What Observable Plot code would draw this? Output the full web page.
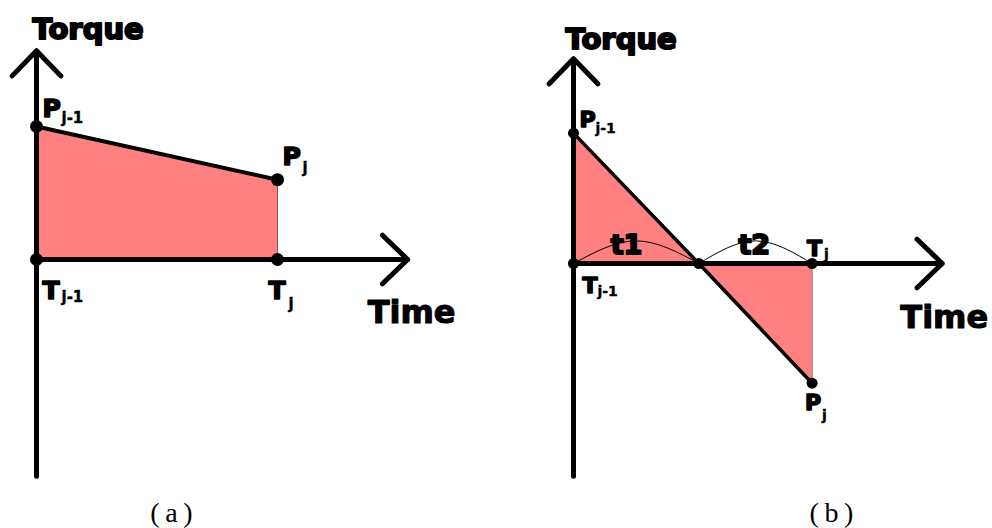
<!DOCTYPE html>
<html>
<head>
<meta charset="utf-8">
<script src="https://cdn.jsdelivr.net/npm/d3@7"></script>
<script src="https://cdn.jsdelivr.net/npm/@observablehq/plot@0.6"></script>
<style>
  body { margin: 0; background: #fff; }
  #row { display: flex; width: 992px; height: 528px; overflow: hidden; }
  #row svg { display: block; flex: none; }
</style>
</head>
<body>
<div id="row"></div>
<script>
// Panel (a): torque keeps its sign over the step [T(j-1), T(j)]
const timeA = [0, 1.0];
const torqueA = [1.0, 0.6];

// Panel (b): torque falls through zero inside the step
const timeB = [0, 0.52, 0.99];
const torqueB = [0.98, 0, -0.9];

// Arcs marking the sub-intervals t1 and t2 in panel (b)
const spanNames = ["t1", "t2"];
const spanArcT = [[0, 0.26, 0.52], [0.52, 0.755, 0.99]];
const spanArcQ = [0, 0.17, 0];
const spanLabelT = [0.22, 0.75];

// Axis extents (time end, torque top, torque bottom)
const axisA = [1.54, 1.57, -1.63];
const axisB = [1.53, 1.54, -1.60];

// Point names with their subscripts
const pointNamesA = ["P", "P", "T", "T"];
const pointSubsA = ["j-1", "j", "j-1", "j"];
const pointTA = [0, 1.0, 0, 1.0];
const pointQA = [1.0, 0.6, 0, 0];

const pointNamesB = ["P", "P", "T", "T"];
const pointSubsB = ["j-1", "j", "j-1", "j"];
const pointTB = [0, 0.99, 0, 0.99];
const pointQB = [0.98, -0.9, 0, 0];

const captions = ["(\u2009a\u2009)", "(\u2009b\u2009)"];
const captionT = [0.56, 1.07];

// ---- drawing -------------------------------------------------------------
const FILL = "#ff8080";
const BOLD = "'DejaVu Sans', sans-serif";
const SERIF = "'Liberation Serif', 'DejaVu Serif', serif";

const rows = (ts, qs) => ts.map((t, i) => ({t, q: qs[i]}));

// label placement: [name dx, name dy, sub dx, sub dy, name size, sub size]
const placeA = [[6, -10, 25, -4, 25, 15], [5, -15, 25, -7, 25, 15], [6, 39, 25, 42, 25, 15], [-9, 39, 11, 49, 25, 15]];
const placeB = [[6, -6, 22, 0, 22, 14], [-7, 27, 10, 37, 22, 14], [9, 29, 24, 32, 22, 14], [-5, -8, 12, -5, 22, 14]];

function pointLabels(names, subs, ts, qs, place) {
  return names.flatMap((name, i) => {
    const d = [{t: ts[i], q: qs[i], name, sub: subs[i]}];
    const [ndx, ndy, sdx, sdy, ns, ss] = place[i];
    return [
      Plot.text(d, {x: "t", y: "q", text: "name", dx: ndx, dy: ndy, textAnchor: "start", lineAnchor: "bottom",
        fontFamily: BOLD, fontWeight: "bold", fontSize: ns, fill: "black", stroke: "black", strokeWidth: 1.6}),
      Plot.text(d, {x: "t", y: "q", text: "sub", dx: sdx, dy: sdy, textAnchor: "start", lineAnchor: "bottom",
        fontFamily: BOLD, fontWeight: "bold", fontSize: ss, fill: "black", stroke: "black", strokeWidth: 0.4})
    ];
  });
}

function axes(ext, torqueDx, torqueDy, timeDx, timeDy) {
  const [tMax, qMax, qMin] = ext;
  const arrowOpts = {stroke: "black", strokeWidth: 5, headLength: 10.5, headAngle: 88, strokeLinecap: "round", strokeLinejoin: "round"};
  return [
    Plot.arrow([{t1: 0, q1: qMin, t2: 0, q2: qMax}], {x1: "t1", y1: "q1", x2: "t2", y2: "q2", ...arrowOpts}),
    Plot.arrow([{t1: 0, q1: 0, t2: tMax, q2: 0}], {x1: "t1", y1: "q1", x2: "t2", y2: "q2", ...arrowOpts}),
    Plot.text(["Torque"], {x: [0], y: [qMax], dx: torqueDx, dy: torqueDy, textAnchor: "start", lineAnchor: "bottom",
      fontFamily: BOLD, fontWeight: "bold", fontSize: 29, fill: "black", stroke: "black", strokeWidth: 2}),
    Plot.text(["Time"], {x: [tMax], y: [0], dx: timeDx, dy: timeDy, textAnchor: "middle", lineAnchor: "bottom",
      fontFamily: BOLD, fontWeight: "bold", fontSize: 32, fill: "black", stroke: "black", strokeWidth: 1.1})
  ];
}

function caption(i) {
  return Plot.text([captions[i]], {x: [captionT[i]], frameAnchor: "bottom", dy: -7, textAnchor: "middle", lineAnchor: "bottom",
    fontFamily: SERIF, fontSize: 28, fill: "black"});
}

// Panel (a)
const dataA = rows(timeA, torqueA);
const panelA = Plot.plot({
  width: 537, height: 528,
  marginTop: 0, marginRight: 0, marginBottom: 0, marginLeft: 0,
  x: {domain: [0, 1], range: [36, 277], axis: null},
  y: {domain: [0, 1], range: [259, 126], axis: null},
  style: {background: "white", overflow: "visible"},
  marks: [
    Plot.areaY(dataA, {x: "t", y1: 0, y2: "q", fill: FILL}),
    Plot.ruleX([timeA[timeA.length - 1]], {y1: 0, y2: torqueA[torqueA.length - 1], stroke: "#a04848", strokeWidth: 1}),
    Plot.line(dataA, {x: "t", y: "q", stroke: "black", strokeWidth: 4}),
    ...axes(axisA, -4, -12, 4, 63),
    Plot.dot(rows(pointTA, pointQA), {x: "t", y: "q", r: 6.5, fill: "black"}),
    ...pointLabels(pointNamesA, pointSubsA, pointTA, pointQA, placeA),
    caption(0)
  ]
});

// Panel (b)
const dataB = rows(timeB, torqueB);
const arcs = spanArcT.flatMap((ts, k) => ts.map((t, i) => ({t, q: spanArcQ[i], span: spanNames[k]})));
const dotsB = rows(timeB, [0, 0, 0]).concat(rows([timeB[0], timeB[timeB.length - 1]], [torqueB[0], torqueB[torqueB.length - 1]]));
const panelB = Plot.plot({
  width: 455, height: 528,
  marginTop: 0, marginRight: 0, marginBottom: 0, marginLeft: 0,
  x: {domain: [0, 1], range: [36, 277], axis: null},
  y: {domain: [0, 1], range: [263, 130], axis: null},
  style: {background: "white", overflow: "visible"},
  marks: [
    Plot.areaY(dataB, {x: "t", y1: 0, y2: "q", fill: FILL}),
    Plot.ruleX([timeB[timeB.length - 1]], {y1: 0, y2: torqueB[torqueB.length - 1], stroke: "#a04848", strokeWidth: 1}),
    Plot.line(dataB, {x: "t", y: "q", stroke: "black", strokeWidth: 3.5}),
    Plot.line(arcs, {x: "t", y: "q", z: "span", curve: "natural", stroke: "black", strokeWidth: 1}),
    ...axes(axisB, -8, -10, 2, 64),
    Plot.text(spanNames, {x: spanLabelT, y: [0, 0], dy: -10, textAnchor: "middle", lineAnchor: "bottom",
      fontFamily: BOLD, fontWeight: "bold", fontSize: 27, fill: "black", stroke: "black", strokeWidth: 2}),
    Plot.dot(dotsB, {x: "t", y: "q", r: 5.5, fill: "black"}),
    ...pointLabels(pointNamesB, pointSubsB, pointTB, pointQB, placeB),
    caption(1)
  ]
});

const row = document.getElementById("row");
row.append(panelA, panelB);
</script>
</body>
</html>
